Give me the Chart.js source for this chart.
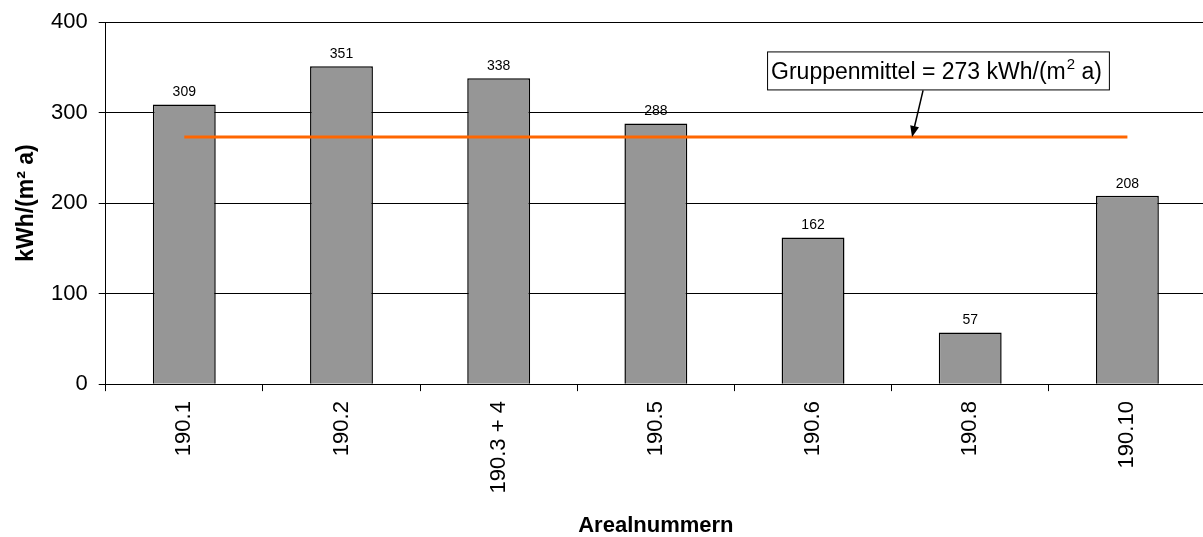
<!DOCTYPE html>
<html>
<head>
<meta charset="utf-8">
<script src="https://cdn.jsdelivr.net/npm/chart.js@4"></script>
<style>
  html, body { margin: 0; padding: 0; background: #fff; overflow: hidden; }
  #wrap { position: relative; width: 1240px; height: 537px; }
</style>
</head>
<body>
<div id="wrap"><canvas id="chart"></canvas></div>
<script>
// Chart data
const areaNumbers = ["190.1", "190.2", "190.3 + 4", "190.5", "190.6", "190.8", "190.10"];
const energyValues = [309, 351, 338, 288, 162, 57, 208];
const groupMean = [273, 273, 273, 273, 273, 273, 273];
const yTicks = [0, 100, 200, 300, 400];

const FONT = "'Liberation Sans', Arial, sans-serif";

// Draws the value above every bar
const barLabels = {
  id: "barLabels",
  afterDatasetsDraw(chart) {
    const ctx = chart.ctx;
    const meta = chart.getDatasetMeta(0);
    ctx.save();
    ctx.font = "14px " + FONT;
    ctx.fillStyle = "#000";
    ctx.textAlign = "center";
    ctx.textBaseline = "bottom";
    meta.data.forEach((bar, i) => {
      ctx.fillText(String(energyValues[i]), bar.x, bar.y - 5);
    });
    ctx.restore();
  }
};

// Text box with an arrow pointing at the mean line
const meanCallout = {
  id: "meanCallout",
  afterDraw(chart) {
    const ctx = chart.ctx;
    const x = chart.scales.x;
    const y = chart.scales.y;
    const step = x.getPixelForValue(1) - x.getPixelForValue(0);
    const tipX = x.getPixelForValue(4) + 0.63 * step;
    const tipY = y.getPixelForValue(groupMean[0]);

    const mainTxt = "Gruppenmittel = " + groupMean[0] + " kWh/(m";
    const supTxt = "2";
    const tailTxt = " a)";
    ctx.save();
    ctx.font = "23px " + FONT;
    const w1 = ctx.measureText(mainTxt).width;
    const w3 = ctx.measureText(tailTxt).width;
    ctx.font = "15px " + FONT;
    const w2 = ctx.measureText(supTxt).width;
    const boxW = w1 + w2 + w3 + 12;
    const boxH = 38;
    const boxX = tipX - 145;
    const boxY = y.getPixelForValue(367.5);

    ctx.fillStyle = "#fff";
    ctx.fillRect(boxX, boxY, boxW, boxH);
    ctx.strokeStyle = "#000";
    ctx.lineWidth = 1;
    ctx.strokeRect(boxX + 0.5, boxY + 0.5, boxW, boxH);

    ctx.fillStyle = "#000";
    ctx.textBaseline = "alphabetic";
    ctx.textAlign = "left";
    const base = boxY + 28;
    ctx.font = "23px " + FONT;
    ctx.fillText(mainTxt, boxX + 4, base);
    ctx.font = "15px " + FONT;
    ctx.fillText(supTxt, boxX + 4 + w1 + 1, base - 10);
    ctx.font = "23px " + FONT;
    ctx.fillText(tailTxt, boxX + 4 + w1 + w2 + 1, base);

    // arrow
    const sx = boxX + 156, sy = boxY + boxH + 1;
    const ang = Math.atan2(tipY - sy, tipX - sx);
    ctx.beginPath();
    ctx.moveTo(sx, sy);
    ctx.lineTo(tipX - 9 * Math.cos(ang), tipY - 9 * Math.sin(ang));
    ctx.lineWidth = 1.5;
    ctx.stroke();
    ctx.beginPath();
    ctx.moveTo(tipX, tipY);
    ctx.lineTo(tipX - 11 * Math.cos(ang) + 4.5 * Math.sin(ang), tipY - 11 * Math.sin(ang) - 4.5 * Math.cos(ang));
    ctx.lineTo(tipX - 11 * Math.cos(ang) - 4.5 * Math.sin(ang), tipY - 11 * Math.sin(ang) + 4.5 * Math.cos(ang));
    ctx.closePath();
    ctx.fill();
    ctx.restore();
  }
};

new Chart(document.getElementById("chart"), {
  data: {
    labels: areaNumbers,
    datasets: [
      {
        type: "bar",
        label: "Energiekennzahl",
        data: energyValues,
        backgroundColor: "#969696",
        borderColor: "#000",
        borderWidth: 1.5,
        categoryPercentage: 1,
        barPercentage: 0.4,
        order: 2
      },
      {
        type: "line",
        label: "Gruppenmittel",
        data: groupMean,
        borderColor: "#ff6600",
        borderWidth: 3,
        pointRadius: 0,
        fill: false,
        order: 1
      }
    ]
  },
  options: {
    responsive: true,
    maintainAspectRatio: false,
    animation: false,
    layout: { padding: { top: 8.5, right: 34, bottom: 0, left: 12.4 } },
    plugins: {
      legend: { display: false },
      tooltip: { enabled: false }
    },
    scales: {
      x: {
        offset: true,
        grid: { offset: true, drawOnChartArea: false, drawTicks: true, tickLength: 7, color: "#000" },
        border: { color: "#000", width: 1 },
        ticks: { color: "#000", font: { family: FONT, size: 22 }, minRotation: 90, maxRotation: 90, autoSkip: false, padding: 10 },
        title: { display: true, text: "Arealnummern", color: "#000", font: { family: FONT, size: 22, weight: "bold", lineHeight: 1 }, padding: { top: 11.5, bottom: 0 } }
      },
      y: {
        min: 0,
        max: 400,
        afterBuildTicks(axis) { axis.ticks = yTicks.map(v => ({ value: v })); },
        grid: { color: "#000", lineWidth: 1, tickLength: 7 },
        border: { color: "#000", width: 1 },
        ticks: { color: "#000", font: { family: FONT, size: 22, lineHeight: 1 }, padding: 11 },
        title: { display: true, text: "kWh/(m² a)", color: "#000", font: { family: FONT, size: 23, weight: "bold" }, padding: { top: 0, bottom: 0 } }
      }
    }
  },
  plugins: [barLabels, meanCallout]
});
</script>
</body>
</html>
